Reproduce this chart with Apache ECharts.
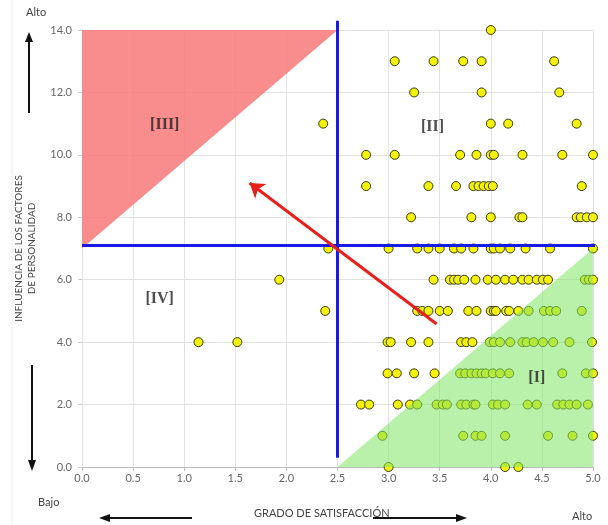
<!DOCTYPE html>
<html>
<head>
<meta charset="utf-8">
<script src="https://cdn.jsdelivr.net/npm/echarts@6/dist/echarts.min.js"></script>
<style>html,body{margin:0;padding:0;background:#fff}#c{width:608px;height:525px}</style>
</head>
<body>
<div id="c"></div>
<script>
// x values (Grado de satisfacción) for each y level (Influencia)
const y14 = [4.0];
const y13 = [3.06, 3.44, 3.73, 3.91, 4.62];
const y12 = [3.25, 3.91, 4.67];
const y11 = [2.36, 4.0, 4.17, 4.84];
const y10 = [2.78, 3.06, 3.70, 3.86, 4.0, 4.03, 4.31, 4.70, 5.0];
const y9 = [2.78, 3.39, 3.66, 3.83, 3.88, 3.93, 3.98, 4.02, 4.89];
const y8 = [3.22, 3.81, 4.0, 4.28, 4.31, 4.84, 4.88, 4.94, 5.0];
const y7 = [2.41, 3.0, 3.28, 3.39, 3.5, 3.64, 3.71, 3.83, 4.0, 4.03, 4.09, 4.19, 4.34, 4.58, 5.0];
const y6 = [1.93, 3.44, 3.60, 3.64, 3.68, 3.74, 3.85, 3.97, 4.05, 4.14, 4.22, 4.31, 4.37, 4.45, 4.51, 4.56, 4.92, 4.96, 5.0];
const y5 = [2.38, 3.28, 3.33, 3.39, 3.5, 3.58, 3.78, 3.86, 4.0, 4.03, 4.05, 4.15, 4.18, 4.27, 4.37, 4.52, 4.58, 4.64, 4.89];
const y4 = [1.14, 1.52, 2.99, 3.02, 3.22, 3.39, 3.71, 3.76, 3.82, 3.99, 4.03, 4.09, 4.19, 4.31, 4.35, 4.42, 4.51, 4.61, 4.77, 4.99];
const y3 = [2.99, 3.08, 3.25, 3.45, 3.70, 3.75, 3.81, 3.86, 3.91, 3.95, 4.02, 4.09, 4.18, 4.70, 4.93, 5.0];
const y2 = [2.73, 2.81, 3.09, 3.21, 3.28, 3.47, 3.53, 3.57, 3.71, 3.76, 3.83, 3.85, 4.02, 4.07, 4.14, 4.36, 4.45, 4.65, 4.71, 4.77, 4.84, 4.95];
const y1 = [2.94, 3.73, 3.85, 3.91, 4.14, 4.56, 4.80, 5.0];
const y0 = [3.0, 4.14, 4.27];

const xTicks = { min: 0, max: 5, step: 0.5 };
const yTicks = { min: 0, max: 14, step: 2 };

const redZone = [[0, 7], [0, 14], [2.5, 14]];
const greenZone = [[2.5, 0], [5, 0], [5, 7]];
const vLine = [[2.5, 0.3], [2.5, 14.3]];
const hLine = [[0, 7.1], [5.02, 7.1]];
const trendArrow = [[3.47, 4.58], [1.64, 9.1]];
const quadLabels = [[0.81, 10.95, '[III]'], [3.43, 10.9, '[II]'], [0.76, 5.4, '[IV]'], [4.45, 2.85, '[I]']];

const levels = [y0, y1, y2, y3, y4, y5, y6, y7, y8, y9, y10, y11, y12, y13, y14];
const points = [];
levels.forEach((xs, y) => xs.forEach(x => points.push([x, y])));

function polygonSeries(poly, color, z) {
  return {
    type: 'custom', z: z, silent: true, clip: false,
    data: [0],
    renderItem: function (params, api) {
      const pts = poly.map(p => api.coord(p));
      return { type: 'polygon', shape: { points: pts }, style: { fill: color } };
    }
  };
}

const chart = echarts.init(document.getElementById('c'), null, { renderer: 'canvas' });
const font = 'Lato, "Open Sans", sans-serif';
chart.setOption({
  animation: false,
  grid: { left: 82, right: 15, top: 30, bottom: 58, containLabel: false },
  xAxis: {
    type: 'value', min: xTicks.min, max: xTicks.max, interval: xTicks.step,
    axisLine: { show: true, lineStyle: { color: '#bbb' } },
    axisTick: { show: true, length: 4, lineStyle: { color: '#bbb' } },
    splitLine: { show: true, lineStyle: { color: '#e2e2e2' } },
    axisLabel: { color: '#666', fontSize: 11, fontFamily: font, margin: 6, formatter: v => v.toFixed(1) }
  },
  yAxis: {
    type: 'value', min: yTicks.min, max: yTicks.max, interval: yTicks.step,
    axisLine: { show: false },
    axisTick: { show: true, length: 4, lineStyle: { color: '#ccc' } },
    splitLine: { show: true, lineStyle: { color: '#e2e2e2' } },
    axisLabel: { color: '#666', fontSize: 11, fontFamily: font, margin: 10, formatter: v => v.toFixed(1) },
    name: 'INFLUENCIA DE LOS FACTORES\nDE PERSONALIDAD',
    nameLocation: 'middle', nameRotate: 90, nameGap: 44,
    nameTextStyle: { color: '#444', fontSize: 10, fontFamily: font, lineHeight: 13 }
  },
  graphic: [
    { type: 'line', shape: { x1: 12, y1: 0, x2: 12, y2: 525 }, style: { stroke: '#eee', lineWidth: 1 } },
    { type: 'text', left: 26, top: 7, style: { text: 'Alto', fill: '#444', font: '11px ' + font } },
    { type: 'line', shape: { x1: 29, y1: 113, x2: 29, y2: 40 }, style: { stroke: '#111', lineWidth: 2 } },
    { type: 'polygon', shape: { points: [[25, 42], [33, 42], [29, 32]] }, style: { fill: '#111' } },
    { type: 'line', shape: { x1: 32, y1: 365, x2: 32, y2: 462 }, style: { stroke: '#111', lineWidth: 2 } },
    { type: 'polygon', shape: { points: [[28, 460], [36, 460], [32, 471]] }, style: { fill: '#111' } },
    { type: 'text', left: 38, top: 497, style: { text: 'Bajo', fill: '#444', font: '11px ' + font } },
    { type: 'text', left: 254, top: 508, style: { text: 'GRADO DE SATISFACCIÓN', fill: '#444', font: '11px ' + font } },
    { type: 'line', shape: { x1: 192, y1: 518, x2: 108, y2: 518 }, style: { stroke: '#111', lineWidth: 2 } },
    { type: 'polygon', shape: { points: [[110, 514], [110, 522], [99, 518]] }, style: { fill: '#111' } },
    { type: 'line', shape: { x1: 373, y1: 518, x2: 458, y2: 518 }, style: { stroke: '#111', lineWidth: 2 } },
    { type: 'polygon', shape: { points: [[456, 514], [456, 522], [467, 518]] }, style: { fill: '#111' } },
    { type: 'text', left: 572, top: 511, style: { text: 'Alto', fill: '#444', font: '11px ' + font } }
  ],
  series: [
    polygonSeries(redZone, 'rgba(248,120,120,0.85)', 1),
    {
      type: 'scatter', z: 3, data: points, symbolSize: 9,
      itemStyle: { color: '#f2f20a', borderColor: '#3a3a10', borderWidth: 1, opacity: 1 }
    },
    polygonSeries(greenZone, 'rgba(130,230,100,0.55)', 4),
    {
      type: 'line', z: 5, data: vLine, clip: false, symbol: 'none',
      lineStyle: { color: '#1a1ae6', width: 3 }
    },
    {
      type: 'line', z: 5, data: hLine, clip: false, symbol: 'none',
      lineStyle: { color: '#1a1ae6', width: 3 }
    },
    {
      type: 'lines', coordinateSystem: 'cartesian2d', z: 6,
      data: [{ coords: trendArrow }],
      symbol: ['none', 'arrow'], symbolSize: 14,
      lineStyle: { color: '#e8201a', width: 3, opacity: 1 }
    },
    {
      type: 'scatter', z: 7, symbolSize: 0, silent: true,
      data: quadLabels.map(d => ({ value: [d[0], d[1]], name: d[2] })),
      label: {
        show: true, position: 'inside', formatter: p => p.name,
        color: '#222', fontSize: 16, fontWeight: 'bold', fontFamily: '"Liberation Serif", "DejaVu Serif", serif'
      }
    }
  ]
});
</script>
</body>
</html>
